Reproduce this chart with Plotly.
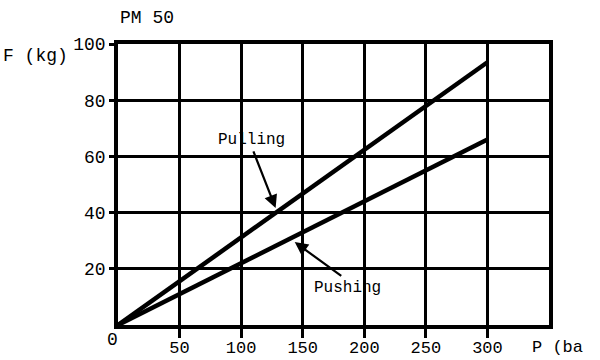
import plotly.graph_objects as go

pressure = [0, 300]
pulling = [0, 93.5]
pushing = [0, 66]
x_ticks = [50, 100, 150, 200, 250, 300]
y_ticks = [20, 40, 60, 80, 100]

FONT = "Courier New, Liberation Mono, monospace"

fig = go.Figure()
fig.add_trace(go.Scatter(x=pressure, y=pulling, mode="lines", hoverinfo="skip",
                         line=dict(color="black", width=4.5), name="Pulling"))
fig.add_trace(go.Scatter(x=pressure, y=pushing, mode="lines", hoverinfo="skip",
                         line=dict(color="black", width=4.5), name="Pushing"))

axis_common = dict(showgrid=True, gridcolor="black", gridwidth=3,
                   showline=True, linecolor="black", linewidth=3.5, mirror=True,
                   zeroline=False, ticks="outside", tickcolor="black", tickwidth=3,
                   automargin=False)

fig.update_xaxes(range=[0, 350], tickvals=x_ticks, ticktext=[str(v) for v in x_ticks],
                 ticklen=9, ticklabelstandoff=-5,
                 tickfont=dict(family=FONT, size=17, color="black"), **axis_common)
fig.update_yaxes(range=[0, 100], tickvals=y_ticks, ticktext=[str(v) for v in y_ticks],
                 ticklen=5, tickfont=dict(family=FONT, size=18, color="black"),
                 **axis_common)

ann_font = dict(family=FONT, size=16, color="black")
fig.add_annotation(x=108.7, y=65.8, text="Pulling", showarrow=False, font=ann_font)
fig.add_annotation(x=186.5, y=13.2, text="Pushing", showarrow=False, font=ann_font)
fig.add_annotation(x=128, y=41.6, ax=109.5, ay=62.3, axref="x", ayref="y",
                   text="", showarrow=True, arrowhead=2, arrowsize=1.2,
                   arrowwidth=2.2, arrowcolor="black")
fig.add_annotation(x=143.5, y=29.5, ax=182.5, ay=17.1, axref="x", ayref="y",
                   text="", showarrow=True, arrowhead=2, arrowsize=1.2,
                   arrowwidth=2.2, arrowcolor="black")

lab_font = dict(family=FONT, size=18, color="black")
fig.add_annotation(xref="paper", yref="paper", x=0.0, y=1.0, yanchor="bottom",
                   yshift=14, text="PM 50", showarrow=False, xanchor="left", font=lab_font)
fig.add_annotation(xref="paper", yref="paper", x=-0.272, y=1.0, xanchor="left",
                   text="F (kg)", showarrow=False, font=lab_font)
fig.add_annotation(xref="paper", yref="paper", x=0.004, y=0, xanchor="right",
                   yanchor="top", yshift=-3, text="0", showarrow=False, font=lab_font)
fig.add_annotation(xref="paper", yref="paper", x=0.956, y=0, xanchor="left",
                   yanchor="top", yshift=-11, text="P (ba",
                   showarrow=False, font=dict(family=FONT, size=17, color="black"))

fig.update_layout(width=600, height=360, showlegend=False, hovermode=False,
                  plot_bgcolor="white", paper_bgcolor="white",
                  margin=dict(l=118, r=51, t=44, b=35))

fig.write_html("out.html", config={"displayModeBar": False},
               post_script="document.body.style.margin='0';"
                           "document.body.style.overflow='hidden';")
